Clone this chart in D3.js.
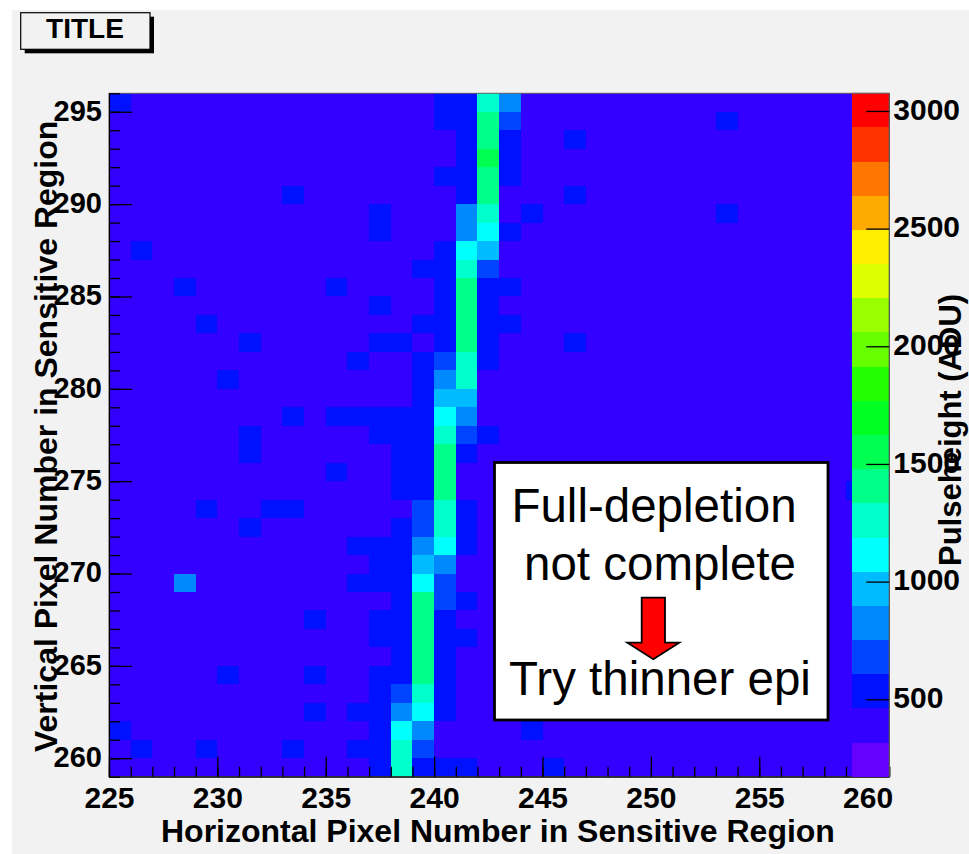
<!DOCTYPE html>
<html><head><meta charset="utf-8">
<script src="https://cdn.jsdelivr.net/npm/d3@7"></script>
<style>html,body{margin:0;padding:0;background:#fff;} svg{display:block;}</style>
</head><body>
<svg id="c" width="969" height="854"></svg>
<script>
// ---------- data ----------
const chartTitle = "TITLE";
const xTitle = "Horizontal Pixel Number in Sensitive Region";
const yTitle = "Vertical Pixel Number in Sensitive Region";
const zTitle = "Pulseheight (ADU)";
const noteLines = ["Full-depletion", "not complete", "Try thinner epi"];

const xDomain = [225, 261];          // pixel columns (bin edges)
const yDomain = [259, 296];          // pixel rows (bin edges)
const zDomain = [171, 3075];         // pulse height range of the palette
const xTickLabels = [225, 230, 235, 240, 245, 250, 255, 260];
const yTickLabels = [260, 265, 270, 275, 280, 285, 290, 295];
const zTickLabels = [500, 1000, 1500, 2000, 2500, 3000];

const backgroundLevel = 390;         // pulse height of the quiet pixels
// pixels above background: [column, row, pulse height]
const hotCells = [
  [225,295,530],[240,295,530],[241,295,530],[242,295,1260],[243,295,820],
  [240,294,530],[241,294,530],[242,294,1400],[243,294,680],[253,294,530],
  [241,293,530],[242,293,1400],[243,293,530],[246,293,530],
  [241,292,530],[242,292,1550],[243,292,530],
  [240,291,530],[241,291,530],[242,291,1400],[243,291,530],
  [233,290,530],[241,290,530],[242,290,1400],[246,290,530],
  [237,289,530],[241,289,820],[242,289,1260],[244,289,530],[253,289,530],
  [237,288,530],[241,288,820],[242,288,1110],[243,288,530],
  [226,287,530],[240,287,530],[241,287,1110],[242,287,970],
  [239,286,530],[240,286,530],[241,286,1260],[242,286,680],
  [228,285,530],[235,285,530],[240,285,530],[241,285,1400],[242,285,530],[243,285,530],
  [237,284,530],[240,284,530],[241,284,1400],[242,284,530],
  [229,283,530],[239,283,530],[240,283,530],[241,283,1400],[242,283,530],[243,283,530],
  [231,282,530],[237,282,530],[238,282,530],[240,282,530],[241,282,1400],[242,282,530],[246,282,530],
  [236,281,530],[239,281,530],[240,281,680],[241,281,1260],[242,281,530],
  [230,280,530],[239,280,530],[240,280,820],[241,280,1260],
  [239,279,530],[240,279,970],[241,279,970],
  [233,278,530],[235,278,530],[236,278,530],[237,278,530],[238,278,530],[239,278,530],[240,278,1110],[241,278,820],
  [231,277,530],[237,277,530],[238,277,530],[239,277,530],[240,277,1260],[241,277,680],[242,277,530],
  [231,276,530],[238,276,530],[239,276,530],[240,276,1400],[241,276,530],
  [235,275,530],[238,275,530],[239,275,530],[240,275,1400],
  [238,274,530],[239,274,530],[240,274,1400],[259,274,530],
  [229,273,530],[232,273,530],[233,273,530],[239,273,680],[240,273,1260],[241,273,530],
  [231,272,530],[238,272,530],[239,272,680],[240,272,1260],[241,272,530],
  [236,271,530],[237,271,530],[238,271,530],[239,271,820],[240,271,1110],[241,271,530],
  [237,270,530],[238,270,530],[239,270,970],[240,270,820],
  [228,269,820],[236,269,530],[237,269,530],[238,269,530],[239,269,1110],[240,269,680],
  [238,268,530],[239,268,1400],[240,268,680],[241,268,530],
  [234,267,530],[237,267,530],[238,267,530],[239,267,1400],[240,267,530],
  [237,266,530],[238,266,530],[239,266,1400],[240,266,530],[241,266,530],
  [238,265,530],[239,265,1400],[240,265,530],
  [230,264,530],[234,264,530],[237,264,530],[238,264,530],[239,264,1400],[240,264,530],
  [237,263,530],[238,263,680],[239,263,1260],[240,263,530],
  [234,262,530],[236,262,530],[237,262,530],[238,262,820],[239,262,1110],[240,262,530],
  [225,261,530],[237,261,530],[238,261,1110],[239,261,820],[244,261,530],
  [226,260,530],[229,260,530],[233,260,530],[236,260,530],[237,260,530],[238,260,1260],[239,260,680],
  [237,259,530],[238,259,1260],[239,259,530],[240,259,530],[241,259,530],[245,259,530]
];

// 20-level palette, low to high
const palette = ["#6600ff","#3300ff","#0011ff","#0044ff","#0088ff","#00bbff","#00ffff","#00ffcc",
  "#00ff88","#00ff50","#00ff22","#22ff00","#66ff00","#99ff00","#ddff00","#ffee00",
  "#ffaa00","#ff7700","#ff3300","#ff0000"];

// ---------- layout ----------
const W = 969, H = 854;
const frame = {left: 109, right: 889.3, top: 93.3, bottom: 776.7};
const barLeft = 852;
const FONT = "'Liberation Sans', Arial, Helvetica, sans-serif";

const svg = d3.select("#c");
svg.append("rect").attr("x", 12).attr("y", 10).attr("width", W - 12).attr("height", H - 10).attr("fill", "#f2f2f2");

const x = d3.scaleLinear().domain(xDomain).range([frame.left, frame.right]);
const y = d3.scaleLinear().domain(yDomain).range([frame.bottom, frame.top]);
const z = d3.scaleLinear().domain(zDomain).range([frame.bottom, frame.top]);
const color = d3.scaleQuantize().domain(zDomain).range(palette);

// full grid of cells
const lookup = new Map(hotCells.map(d => [d[0] + "," + d[1], d[2]]));
const grid = [];
for (let cx = xDomain[0]; cx < xDomain[1]; cx++)
  for (let cy = yDomain[0]; cy < yDomain[1]; cy++)
    grid.push({cx, cy, v: lookup.has(cx + "," + cy) ? lookup.get(cx + "," + cy) : backgroundLevel});

svg.append("g").attr("shape-rendering", "crispEdges")
  .selectAll("rect").data(grid).join("rect")
  .attr("x", d => x(d.cx)).attr("y", d => y(d.cy + 1))
  .attr("width", d => x(d.cx + 1) - x(d.cx)).attr("height", d => y(d.cy) - y(d.cy + 1))
  .attr("fill", d => color(d.v));

// frame outline
svg.append("rect").attr("x", frame.left).attr("y", frame.top)
  .attr("width", frame.right - frame.left).attr("height", frame.bottom - frame.top)
  .attr("fill", "none").attr("stroke", "#666").attr("stroke-width", 1);

function styleAxis(g, size) {
  g.attr("font-family", FONT).attr("font-weight", "bold").attr("font-size", size);
  g.selectAll("line").attr("stroke", "#000").attr("stroke-width", 1.3);
  g.selectAll("path.domain").attr("stroke", "#000").attr("stroke-width", 1.2);
  g.selectAll("text").attr("fill", "#000");
}

// x axis
const gxMinor = svg.append("g").attr("transform", `translate(0,${frame.bottom})`)
  .call(d3.axisBottom(x).tickValues(d3.range(xDomain[0], xDomain[1] + 1)).tickSize(-10).tickSizeOuter(0).tickFormat(""));
styleAxis(gxMinor, 30);
const gx = svg.append("g").attr("transform", `translate(0,${frame.bottom})`)
  .call(d3.axisBottom(x).tickValues(xTickLabels).tickSize(-20).tickSizeOuter(0).tickPadding(10).tickFormat(d3.format("d")));
styleAxis(gx, 30);
gx.select("path.domain").remove();

// y axis
const gyMinor = svg.append("g").attr("transform", `translate(${frame.left},0)`)
  .call(d3.axisLeft(y).tickValues(d3.range(yDomain[0], yDomain[1] + 1)).tickSize(-11).tickSizeOuter(0).tickFormat(""));
styleAxis(gyMinor, 29);
const gy = svg.append("g").attr("transform", `translate(${frame.left},0)`)
  .call(d3.axisLeft(y).tickValues(yTickLabels).tickSize(-23).tickSizeOuter(0).tickPadding(7).tickFormat(d3.format("d")));
styleAxis(gy, 29);
gy.select("path.domain").remove();
gy.selectAll("text").attr("dy", "0.29em");

// colour bar
const bandW = (zDomain[1] - zDomain[0]) / palette.length;
svg.append("g").attr("shape-rendering", "crispEdges")
  .selectAll("rect").data(palette).join("rect")
  .attr("x", barLeft).attr("width", frame.right - barLeft)
  .attr("y", (d, i) => z(zDomain[0] + (i + 1) * bandW))
  .attr("height", (d, i) => z(zDomain[0] + i * bandW) - z(zDomain[0] + (i + 1) * bandW))
  .attr("fill", d => d);
svg.append("line").attr("x1", frame.right).attr("x2", frame.right).attr("y1", frame.top).attr("y2", frame.bottom)
  .attr("stroke", "#555").attr("stroke-width", 1.2);
svg.append("line").attr("x1", barLeft).attr("x2", frame.right).attr("y1", frame.top).attr("y2", frame.top)
  .attr("stroke", "#666").attr("stroke-width", 1);
const gz = svg.append("g").attr("transform", `translate(${frame.right},0)`)
  .call(d3.axisRight(z).tickValues(zTickLabels).tickSize(-23).tickSizeOuter(0).tickPadding(4).tickFormat(d3.format("d")));
styleAxis(gz, 30);
gz.select("path.domain").remove();
gz.selectAll("text").attr("dy", "0.275em");

// axis titles
svg.append("text").attr("x", 161).attr("y", 841.5)
  .attr("font-family", FONT).attr("font-weight", "bold").attr("font-size", 32).text(xTitle);
svg.append("text").attr("transform", "translate(56.5,752) rotate(-90)")
  .attr("font-family", FONT).attr("font-weight", "bold").attr("font-size", 32).text(yTitle);
svg.append("text").attr("transform", "translate(961,566) rotate(-90)")
  .attr("font-family", FONT).attr("font-weight", "bold").attr("font-size", 31).text(zTitle);

// title box
svg.append("rect").attr("x", 24.7).attr("y", 16.7).attr("width", 129.3).attr("height", 36.6).attr("fill", "#000");
svg.append("rect").attr("x", 20.7).attr("y", 12.7).attr("width", 129.3).attr("height", 36.6)
  .attr("fill", "#f2f2f2").attr("stroke", "#000").attr("stroke-width", 1.2);
svg.append("text").attr("x", 85).attr("y", 38).attr("text-anchor", "middle")
  .attr("font-family", FONT).attr("font-weight", "bold").attr("font-size", 28).text(chartTitle);

// annotation box
svg.append("rect").attr("x", 494.5).attr("y", 462.5).attr("width", 333.5).attr("height", 257.5)
  .attr("fill", "#fff").attr("stroke", "#000").attr("stroke-width", 2.8);
const noteX = [654, 660, 660];
const noteY = [521.5, 580, 695];
noteLines.forEach((t, i) => {
  svg.append("text").attr("x", noteX[i]).attr("y", noteY[i]).attr("text-anchor", "middle")
    .attr("font-family", FONT).attr("font-size", 47.5).attr("fill", "#000").text(t);
});
svg.append("path")
  .attr("d", "M641.7,597.7 L665,597.7 L665,642.7 L679.3,642.7 L653.3,659.3 L627.3,642.7 L641.7,642.7 Z")
  .attr("fill", "#ff0000").attr("stroke", "#000").attr("stroke-width", 1.8).attr("stroke-linejoin", "miter");
</script>
</body></html>
